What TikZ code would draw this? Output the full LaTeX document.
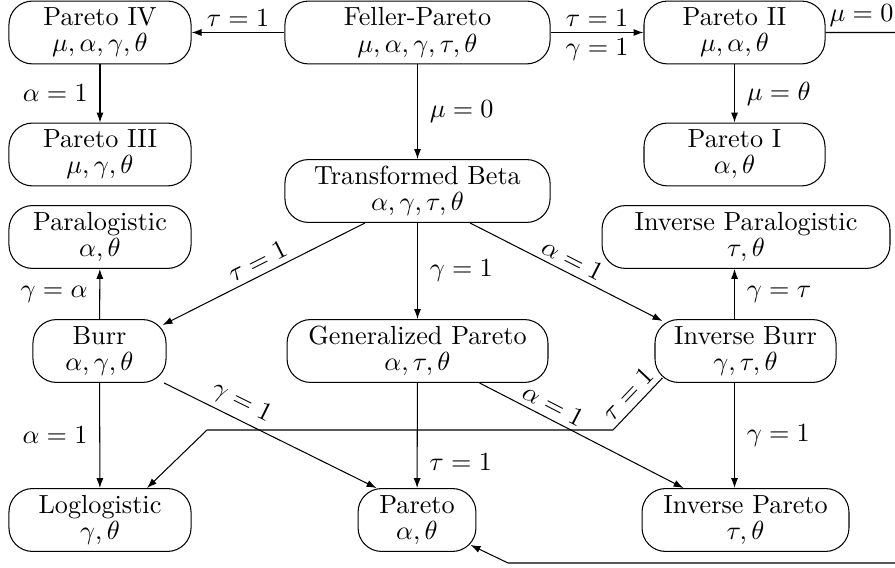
\documentclass[tikz,border=0pt]{standalone}
\usetikzlibrary{arrows.meta,calc}
\begin{document}
\begin{tikzpicture}[x=0.3817pt,y=-0.3817pt,
  dist/.style={draw, rounded corners=9pt, minimum height=24pt, inner sep=1pt, align=center},
  lbl/.style={inner sep=2pt},
  arr/.style={-{Latex[length=3.8pt,width=2.7pt]}}]
\useasboundingbox (0,0) rectangle (895,568);
\clip (0,0) rectangle (895,568);
% nodes
\node[dist, minimum width=69.5pt] (P4) at (100,32.5) {Pareto IV\\[-2pt]$\mu,\alpha,\gamma,\theta$};
\node[dist, minimum width=101.2pt] (FP) at (417.5,32.5) {Feller-Pareto\\[-2pt]$\mu,\alpha,\gamma,\tau,\theta$};
\node[dist, minimum width=69.1pt] (P2) at (734.5,32.5) {Pareto II\\[-2pt]$\mu,\alpha,\theta$};
\node[dist, minimum width=69.5pt] (P3) at (100,154.5) {Pareto III\\[-2pt]$\mu,\gamma,\theta$};
\node[dist, minimum width=69.1pt] (P1) at (734.5,154.5) {Pareto I\\[-2pt]$\alpha,\theta$};
\node[dist, minimum width=101.2pt] (TB) at (417.5,191) {Transformed Beta\\[-2pt]$\alpha,\gamma,\tau,\theta$};
\node[dist, minimum width=69.5pt] (PL) at (100,237) {Paralogistic\\[-2pt]$\alpha,\theta$};
\node[dist, minimum width=109.9pt] (IPL) at (746,237) {Inverse Paralogistic\\[-2pt]$\tau,\theta$};
\node[dist, minimum width=50.8pt] (Burr) at (99.5,351) {Burr\\[-2pt]$\alpha,\gamma,\theta$};
\node[dist, minimum width=99.6pt] (GP) at (417.5,351) {Generalized Pareto\\[-2pt]$\alpha,\tau,\theta$};
\node[dist, minimum width=69.1pt] (IB) at (745.5,351) {Inverse Burr\\[-2pt]$\gamma,\tau,\theta$};
\node[dist, minimum width=69.5pt] (LL) at (100,520) {Loglogistic\\[-2pt]$\gamma,\theta$};
\node[dist, minimum width=45pt] (Par) at (417,520) {Pareto\\[-2pt]$\alpha,\theta$};
\node[dist, minimum width=79pt] (IPar) at (745.5,520) {Inverse Pareto\\[-2pt]$\tau,\theta$};
% helper coordinates
\coordinate (far) at (1000,563);
\coordinate (b3) at (508,563);
\coordinate (b1) at (613,430);
\coordinate (b2) at (207,430);
% edges
\draw[arr] (FP) -- node[lbl,above]{$\tau=1$} (P4);
\draw[arr] (FP) -- node[lbl,above]{$\tau=1$} node[lbl,below]{$\gamma=1$} (P2);
\draw[arr] (P2.east) -- node[lbl,above,pos=0.206]{$\mu=0$} (P2.east -| far) |- (b3) -- ($(Par.south east)+(-6,-7)$);
\draw[arr] (P4) -- node[lbl,left=2.5pt]{$\alpha=1$} (P3);
\draw[arr] (P2) -- node[lbl,right=2.5pt]{$\mu=\theta$} (P1);
\draw[arr] (FP) -- node[lbl,right=2.5pt]{$\mu=0$} (TB);
\draw[arr] ($(TB.south)+(-52.5,0)$) -- node[lbl,above,sloped]{$\tau=1$} ($(Burr.north east)+(-4,6)$);
\draw[arr] (TB) -- node[lbl,right=2.5pt]{$\gamma=1$} (GP);
\draw[arr] ($(TB.south)+(52.5,0)$) -- node[lbl,above,sloped]{$\alpha=1$} ($(IB.north west)+(8,2)$);
\draw[arr] (Burr) -- node[lbl,left=2.5pt]{$\gamma=\alpha$} (PL);
\draw[arr] (IB.north -| P2) -- node[lbl,right=2.5pt]{$\gamma=\tau$} (IPL.south -| P2);
\draw[arr] (Burr) -- node[lbl,left=2.5pt]{$\alpha=1$} (LL);
\draw[arr] (Burr) -- node[lbl,above,sloped,pos=0.33]{$\gamma=1$} ($(Par.north west)+(19,0)$);
\draw[arr] (GP) -- node[lbl,right=2.5pt,pos=0.75]{$\tau=1$} (Par);
\draw[arr] (GP) -- node[lbl,above,sloped,pos=0.33]{$\alpha=1$} (IPar);
\draw[arr] (IB.south -| P2) -- node[lbl,right=2.5pt]{$\gamma=1$} (IPar.north -| P2);
\draw[arr] ($(IB.south west)+(8,-5)$) -- node[lbl,above,sloped]{$\tau=1$} (b1) -- (b2) -- ($(LL.north)+(47,0)$);
\end{tikzpicture}
\end{document}
